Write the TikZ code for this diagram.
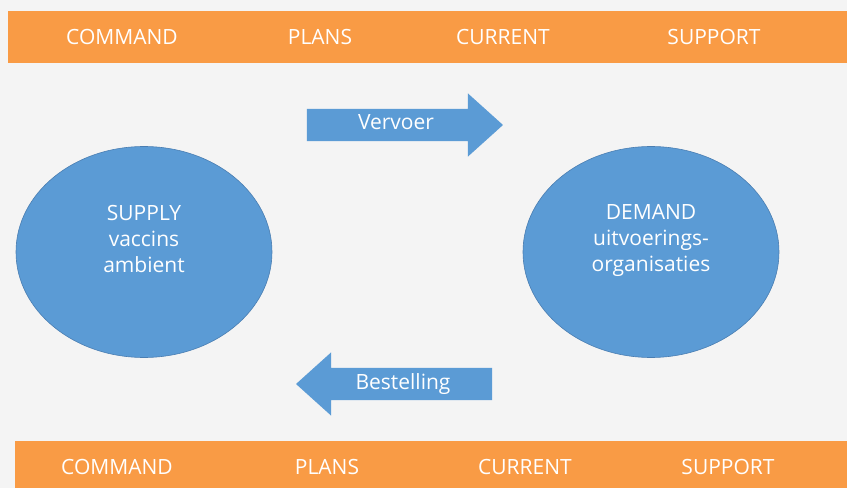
\documentclass[tikz,border=0pt]{standalone}
\usepackage{fontspec}
\setmainfont{Open Sans}
\usetikzlibrary{shapes.geometric,shapes.arrows}

\definecolor{barorange}{HTML}{F99B45}
\definecolor{blobblue}{HTML}{5B9BD5}
\definecolor{blobedge}{HTML}{4A7EB2}
\definecolor{paper}{HTML}{F4F4F4}

\begin{document}
\begin{tikzpicture}[x=1pt,y=1pt,
    bar label/.style={text=white,font=\fontsize{21}{24}\selectfont},
    blob node/.style={ellipse,fill=blobblue,draw=blobedge,line width=0.6pt,
        minimum width=256pt,minimum height=211pt,inner sep=0pt},
    blob text/.style={text=white,align=center,font=\fontsize{21}{26}\selectfont},
    arrow node/.style={single arrow,fill=blobblue,draw=none,text=white,
        minimum height=196pt,single arrow head extend=15.5pt,
        single arrow tip angle=84,inner xsep=0pt,inner ysep=6pt,
        text height=15pt,text depth=5pt,font=\fontsize{21}{24}\selectfont}]
    % background and bars
    \fill[paper] (0,0) rectangle (847,488);
    \fill[barorange] (8,425) rectangle (847,477);
    \fill[barorange] (15,0) rectangle (847,47);
    \node[bar label] (tcommand) at (122,451) {COMMAND};
    \node[bar label] (tplans) at (320,451) {PLANS};
    \node[bar label] (tcurrent) at (503,451) {CURRENT};
    \node[bar label] (tsupport) at (714,451) {SUPPORT};
    \node[bar label] (bcommand) at (117,21) {COMMAND};
    \node[bar label] (bplans) at (327,21) {PLANS};
    \node[bar label] (bcurrent) at (525,21) {CURRENT};
    \node[bar label] (bsupport) at (728,21) {SUPPORT};
    % supply and demand
    \node[blob node] (supply) at (144,236) {};
    \node[blob node] (demand) at (651,236) {};
    \node[blob text] (supply text) at ([yshift=13pt]supply.center) {SUPPLY\\vaccins\\ambient};
    \node[blob text] (demand text) at ([yshift=12pt]demand.center) {DEMAND\\uitvoerings-\\organisaties};
    % flows
    \node[arrow node] (vervoer) at (396,363) {Vervoer};
    \node[arrow node,shape border rotate=180] (bestelling) at (403,104) {Bestelling};
\end{tikzpicture}
\end{document}
